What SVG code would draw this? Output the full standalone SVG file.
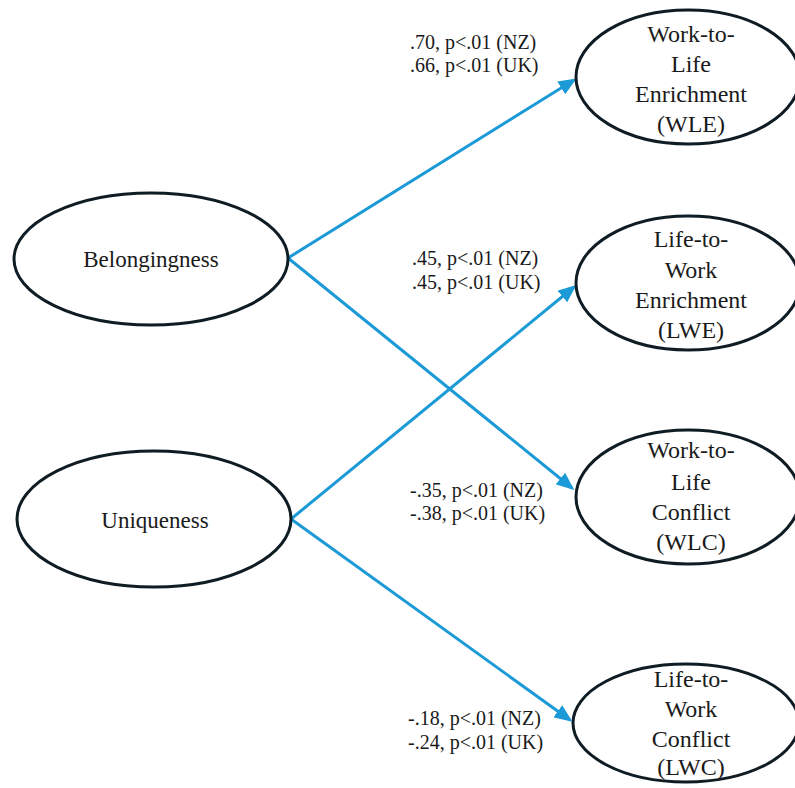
<svg xmlns="http://www.w3.org/2000/svg" width="795" height="788" viewBox="0 0 795 788">
<style>
.node ellipse{fill:#fff;stroke:#101c24;stroke-width:3}
text{font-family:"Liberation Serif","Times New Roman",serif;fill:#1a1a1a}
.nt{font-size:24px;text-anchor:middle}
.src{font-size:23px;text-anchor:middle}
.lbl{font-size:20px}
.edge{stroke:#1b9ad7;stroke-width:3;fill:none;marker-end:url(#ah)}
</style>
<defs>
<marker id="ah" markerWidth="6" markerHeight="5" refX="5" refY="2.5" orient="auto" markerUnits="strokeWidth">
<path d="M0,0 L6,2.5 L0,5 z" fill="#1b9ad7"/>
</marker>
</defs>
<rect width="795" height="788" fill="#fff"/>
<g id="connectors">
<line class="edge" x1="288" y1="258" x2="574" y2="80"/>
<line class="edge" x1="288" y1="258" x2="572" y2="488"/>
<line class="edge" x1="291" y1="519" x2="574" y2="287"/>
<line class="edge" x1="291" y1="519" x2="570" y2="720"/>
</g>
<g id="belongingness" class="node">
<ellipse cx="151" cy="259" rx="137" ry="66"/>
<text class="src" x="151" y="267">Belongingness</text>
</g>
<g id="uniqueness" class="node">
<ellipse cx="154" cy="519" rx="137" ry="68"/>
<text class="src" x="155" y="528">Uniqueness</text>
</g>
<g id="wle" class="node">
<ellipse cx="688" cy="77" rx="112" ry="67"/>
<text class="nt" x="691" y="42">Work-to-</text>
<text class="nt" x="691" y="72">Life</text>
<text class="nt" x="691" y="102">Enrichment</text>
<text class="nt" x="691" y="132">(WLE)</text>
</g>
<g id="lwe" class="node">
<ellipse cx="688" cy="283" rx="112" ry="67"/>
<text class="nt" x="691" y="247">Life-to-</text>
<text class="nt" x="691" y="278">Work</text>
<text class="nt" x="691" y="308">Enrichment</text>
<text class="nt" x="691" y="338">(LWE)</text>
</g>
<g id="wlc" class="node">
<ellipse cx="688" cy="497" rx="112" ry="67"/>
<text class="nt" x="691" y="458">Work-to-</text>
<text class="nt" x="691" y="490">Life</text>
<text class="nt" x="691" y="520">Conflict</text>
<text class="nt" x="691" y="550">(WLC)</text>
</g>
<g id="lwc" class="node">
<ellipse cx="686" cy="723" rx="113" ry="59"/>
<text class="nt" x="691" y="687">Life-to-</text>
<text class="nt" x="691" y="717">Work</text>
<text class="nt" x="691" y="747">Conflict</text>
<text class="nt" x="691" y="775">(LWC)</text>
</g>
<g id="labels">
<text class="lbl" x="410" y="49">.70, p&lt;.01 (NZ)</text>
<text class="lbl" x="410" y="72">.66, p&lt;.01 (UK)</text>
<text class="lbl" x="412" y="265">.45, p&lt;.01 (NZ)</text>
<text class="lbl" x="412" y="289">.45, p&lt;.01 (UK)</text>
<text class="lbl" x="410" y="497">-.35, p&lt;.01 (NZ)</text>
<text class="lbl" x="410" y="520">-.38, p&lt;.01 (UK)</text>
<text class="lbl" x="408" y="725">-.18, p&lt;.01 (NZ)</text>
<text class="lbl" x="408" y="749">-.24, p&lt;.01 (UK)</text>
</g>
</svg>
